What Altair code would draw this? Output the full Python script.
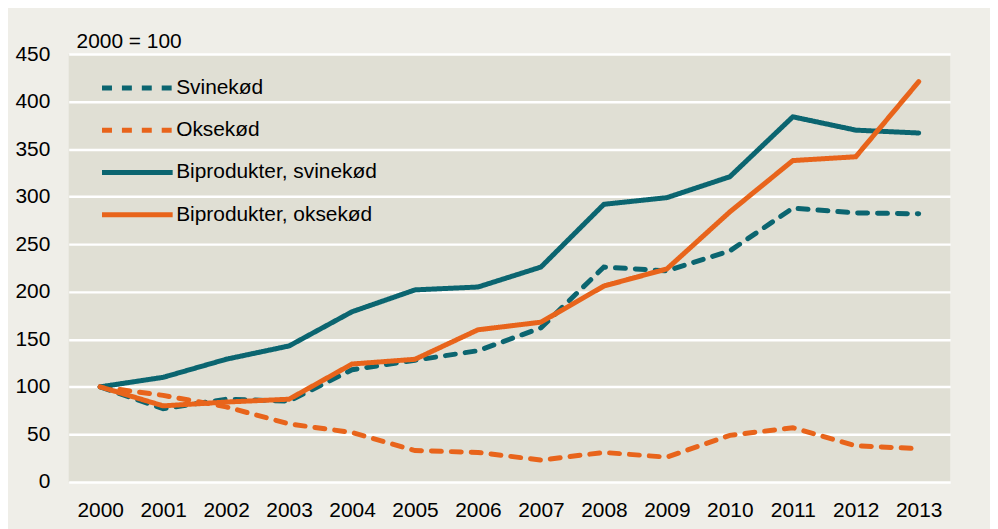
import altair as alt
import pandas as pd

years = [2000, 2001, 2002, 2003, 2004, 2005, 2006, 2007, 2008, 2009, 2010, 2011, 2012, 2013]
series_names = ["Svinekød", "Oksekød", "Biprodukter, svinekød", "Biprodukter, oksekød"]
svinekod = [100, 77, 87, 85, 118, 128, 138, 162, 226, 222, 243, 288, 283, 282]
oksekod = [100, 91, 79, 61, 52, 33, 31, 23, 31, 26, 49, 57, 38, 35]
bipro_svin = [100, 110, 129, 143, 179, 202, 205, 226, 292, 299, 321, 384, 370, 367]
bipro_okse = [100, 80, 84, 87, 124, 129, 160, 168, 206, 224, 284, 338, 342, 421]
colors = ["#0b6570", "#e8641b", "#0b6570", "#e8641b"]
dashes = [[10, 10], [10, 10], [1, 0], [1, 0]]

rows = []
for name, vals in zip(series_names, [svinekod, oksekod, bipro_svin, bipro_okse]):
    for y, v in zip(years, vals):
        rows.append({"year": str(y), "value": v, "series": name})
df = pd.DataFrame(rows)

FONT = "Liberation Sans"
FS = 21

chart = alt.Chart(df).mark_line(strokeWidth=5, strokeCap="round").encode(
    x=alt.X("year:O", scale=alt.Scale(type="point", padding=0.5),
            axis=alt.Axis(title=None, labelAngle=0, ticks=False, tickSize=0, domain=False,
                          grid=False, labelPadding=18, labelFontSize=FS, labelFont=FONT,
                          labelColor="#000000")),
    y=alt.Y("value:Q", scale=alt.Scale(domain=[0, 450], nice=False),
            axis=alt.Axis(title=None, values=list(range(0, 451, 50)), ticks=False, tickSize=0,
                          domain=False, grid=True, gridColor="#ffffff", gridWidth=2.5,
                          labelPadding=19, labelFontSize=FS, labelFont=FONT,
                          labelColor="#000000")),
    color=alt.Color("series:N", scale=alt.Scale(domain=series_names, range=colors),
                    sort=series_names, legend=alt.Legend(title=None)),
    strokeDash=alt.StrokeDash("series:N", scale=alt.Scale(domain=series_names, range=dashes),
                              sort=series_names, legend=alt.Legend(title=None)),
    detail="series:N",
).properties(
    width=886,
    height=430,
    autosize=alt.AutoSizeParams(type="none"),
    padding={"left": 61, "top": 45, "right": 40, "bottom": 46},
    title=alt.TitleParams("2000 = 100", anchor="start", dx=62, dy=31, offset=5, fontSize=FS,
                          font=FONT, fontWeight="normal", color="#000000",
                          baseline="alphabetic"),
).configure(
    background="#efeee8",
).configure_view(
    fill="#e0dfd4", stroke=None,
).configure_legend(
    orient="none", legendX=31, legendY=23, padding=0,
    symbolType="stroke", symbolSize=5041, symbolStrokeWidth=5,
    labelFontSize=FS, labelFont=FONT, labelColor="#000000", labelOffset=1,
    clipHeight=22, rowPadding=20.5, labelLimit=400,
)

chart.save("out.html", embed_options={"renderer": "svg", "actions": False})
